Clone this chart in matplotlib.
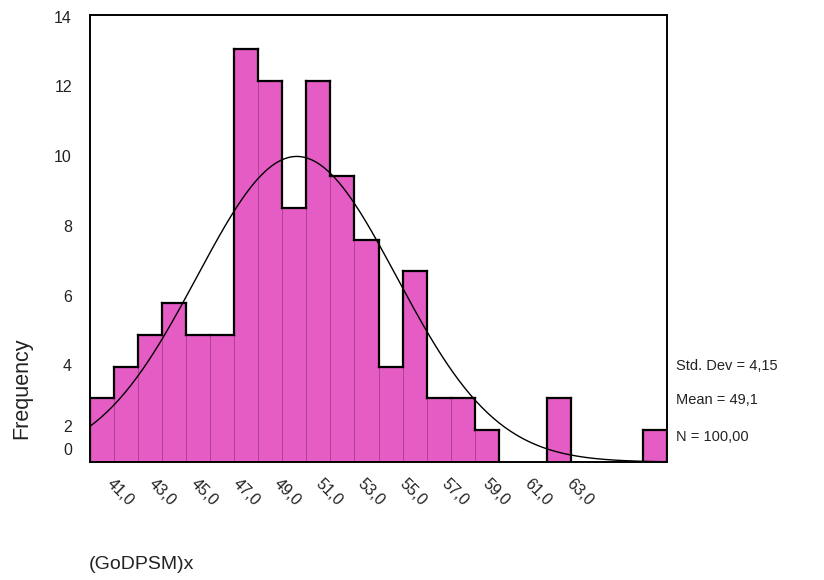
import numpy as np
import matplotlib
matplotlib.use("Agg")
import matplotlib.pyplot as plt

# histogram of (GoDPSM)x, bins of width 1 centred on 41..64
bin_centres = list(range(41, 65))
counts = [2, 3, 4, 5, 4, 4, 13, 12, 8, 12, 9, 7, 3, 6, 2, 2, 1, 0, 0, 2, 0, 0, 0, 1]
x_labels = ["41,0", "43,0", "45,0", "47,0", "49,0", "51,0",
            "53,0", "55,0", "57,0", "59,0", "61,0", "63,0"]
y_labels = ["0", "2", "4", "6", "8", "10", "12", "14"]
sd = 4.15
mean = 49.1
n = 100

plt.rcParams['font.family'] = ['Liberation Sans', 'DejaVu Sans']

fig = plt.figure(figsize=(8.24, 5.80), dpi=100)
ax = fig.add_axes([0.1092, 0.2034, 0.7003, 0.7706])

pink = '#e45cc4'
ax.bar(bin_centres, counts, width=1.0, color=pink, edgecolor='#a8408c', linewidth=0.6, zorder=2)

# black outline round the bars
edges = np.array(bin_centres) - 0.5
edges = np.append(edges, bin_centres[-1] + 0.5)
for i, c in enumerate(counts):
    if c > 0:
        ax.plot([edges[i], edges[i + 1]], [c, c], color='black', lw=1.6, zorder=3)
    left = counts[i - 1] if i > 0 else 0
    if c != left:
        ax.plot([edges[i], edges[i]], [min(c, left), max(c, left)], color='black', lw=1.6, zorder=3)
ax.plot([edges[-1], edges[-1]], [0, counts[-1]], color='black', lw=1.6, zorder=3)

# normal curve
xs = np.linspace(40.5, 64.5, 300)
ys = n * 1.0 / (sd * np.sqrt(2 * np.pi)) * np.exp(-0.5 * ((xs - mean) / sd) ** 2)
ax.plot(xs, ys, color='black', lw=1.0, zorder=4)

ax.set_xlim(40.5, 64.5)
ax.set_ylim(0, 14.06)
for s in ax.spines.values():
    s.set_linewidth(1.4)

# tick labels placed where the printed chart puts them
ax.set_xticks([])
ax.set_yticks([])
xt_pos = np.linspace(41.1, 60.2, len(x_labels))
for p, lab in zip(xt_pos, x_labels):
    ax.text(p, -0.45, lab, rotation=-45, ha='left', va='top', fontsize=11.5,
            color='#222222')
yt_pos = [0.35, 1.1, 2.99, 5.19, 7.39, 9.59, 11.79, 13.96]
for p, lab in zip(yt_pos, y_labels):
    ax.text(39.75, p, lab, ha='right', va='center', fontsize=11.5, color='#222222')

fig.text(0.027, 0.33, "Frequency", rotation=90, ha='center', va='center', fontsize=15.5, color='#222222')
fig.text(0.108, 0.026, "(GoDPSM)x", ha='left', va='center', fontsize=14, color='#222222')

fig.text(0.820, 1 - 366 / 580, "Std. Dev = 4,15", ha='left', va='center', fontsize=10.5, color='#222222')
fig.text(0.820, 1 - 400 / 580, "Mean = 49,1", ha='left', va='center', fontsize=10.5, color='#222222')
fig.text(0.820, 1 - 437 / 580, "N = 100,00", ha='left', va='center', fontsize=10.5, color='#222222')

fig.savefig("out.png", dpi=100)
